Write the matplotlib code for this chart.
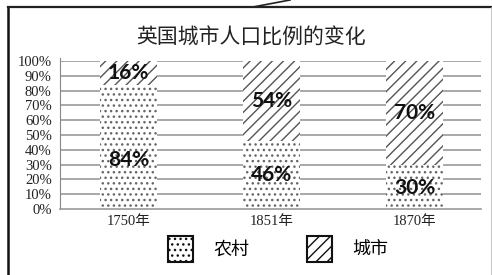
import matplotlib
matplotlib.use("Agg")
import matplotlib.pyplot as plt
from matplotlib.patches import Patch
from matplotlib.lines import Line2D
import numpy as np

plt.rcParams['hatch.linewidth'] = 1.0

# dati
anni = ['1750年', '1851年', '1870年']
rurale = [84, 46, 30]
urbano = [16, 54, 70]
titolo = '英国城市人口比例的变化'
serie = ['农村', '城市']

cjk = ['Noto Sans CJK SC', 'DejaVu Sans']
serif_cjk = ['Liberation Serif', 'Noto Sans CJK SC']

f1 = plt.figure(figsize=(4.92, 2.75), dpi=100)

# cornice
f1.add_artist(Line2D([8/492, 8/492], [0, 1-7/275], color='#111111', lw=1.8))
f1.add_artist(Line2D([8/492, 1], [1-7/275, 1-7/275], color='#222222', lw=1.6))
f1.add_artist(Line2D([491/492, 491/492], [0, 1-7/275], color='#bbbbbb', lw=0.6))
f1.add_artist(Line2D([253/492, 290/492], [1-7/275, 1], color='#222222', lw=1.2))

f1.text(0.51, 1-38/275, titolo, ha='center', va='center',
        fontsize=15, family=cjk, color='#222222', fontweight='light')

ax = f1.add_axes([60/492, 1-209/275, 421/492, 148/275])
x = np.arange(len(anni))
w = 0.4

for y in range(10, 101, 10):
    ax.axhline(y, color='#999999', lw=1.2, zorder=0)

b1 = ax.bar(x, rurale, w, color='white', edgecolor='#666666', hatch='...',
            lw=0, zorder=2)
b2 = ax.bar(x, urbano, w, bottom=rurale, color='white', edgecolor='#555555',
            hatch='///', lw=0, zorder=2)

# etichette
pos_r = [33, 23, 14]
for i in range(len(anni)):
    ax.text(x[i], pos_r[i], f'{rurale[i]}%', ha='center', va='center',
            fontsize=15, fontweight='bold', family='Lato', color='#111111',
            zorder=3)
    ax.text(x[i], rurale[i] + urbano[i] / 2, f'{urbano[i]}%', ha='center',
            va='center', fontsize=15, fontweight='bold', family='Lato',
            color='#111111', zorder=3)

ax.set_xlim(-0.479, 2.465)
ax.set_ylim(0, 100)
ax.set_yticks(range(0, 101, 10))
ax.set_yticklabels([f'{v}%' for v in range(0, 101, 10)], family='Liberation Serif',
                   fontsize=10.5, color='#222222')
ax.set_xticks(x)
ax.set_xticklabels(anni, family=serif_cjk, fontsize=10.5, color='#222222')
ax.tick_params(length=0, pad=4)
ax.tick_params(axis='y', pad=6)
for s in ['top', 'right']:
    ax.spines[s].set_visible(False)
ax.spines['left'].set_color('#888888')
ax.spines['bottom'].set_color('#999999')
ax.spines['bottom'].set_linewidth(1.2)
ax.spines['left'].set_bounds(0, 102)

h1 = Patch(facecolor='white', edgecolor='#111111', hatch='...', lw=1.5)
h2 = Patch(facecolor='white', edgecolor='#111111', hatch='///', lw=1.5)
f1.legend([h1, h2], serie, loc='center', bbox_to_anchor=(0.565, 1-249/275),
          ncol=2, frameon=False, prop={'family': cjk, 'size': 13},
          handlelength=1.4, handleheight=1.9, columnspacing=3.2, handletextpad=1.1)

f1.savefig('out.png', dpi=100)
